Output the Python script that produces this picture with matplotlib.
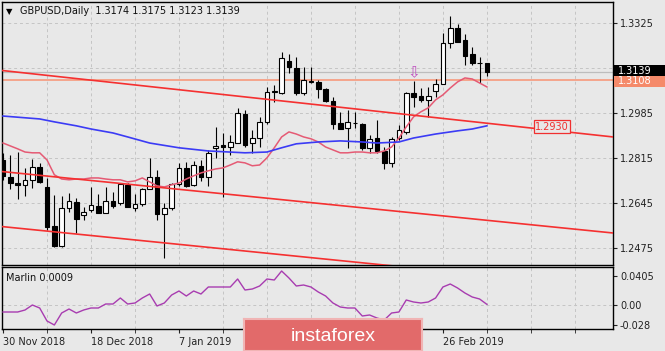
import matplotlib.pyplot as plt
from matplotlib.patches import Rectangle
import numpy as np

# GBPUSD daily, 30 Nov 2018 .. 6 Mar 2019 (bar index 0..66)
opens = [1.2807, 1.2743, 1.2720, 1.2713, 1.2732, 1.2781, 1.2705, 1.2558, 1.2482, 1.2626,
         1.2648, 1.2599, 1.2618, 1.2633, 1.2607, 1.2652, 1.2645, 1.2713, 1.2626, 1.2641,
         1.2698, 1.2743, 1.2603, 1.2626, 1.2716, 1.2777, 1.2713, 1.2785, 1.2743, 1.2853,
         1.2864, 1.2856, 1.2871, 1.2981, 1.2871, 1.2890, 1.2951, 1.3064, 1.3060, 1.3181,
         1.3155, 1.3060, 1.3102, 1.3102, 1.3076, 1.3030, 1.2947, 1.2928, 1.2947, 1.2943,
         1.2853, 1.2890, 1.2841, 1.2796, 1.2890, 1.2913, 1.3060, 1.3049, 1.3034, 1.3068,
         1.3094, 1.3249, 1.3306, 1.3261, 1.3208, 1.3174, 1.3174]
highs = [1.2834, 1.2826, 1.2837, 1.2777, 1.2811, 1.2796, 1.2739, 1.2675, 1.2671, 1.2682,
         1.2664, 1.2630, 1.2705, 1.2679, 1.2705, 1.2686, 1.2720, 1.2720, 1.2679, 1.2701,
         1.2815, 1.2769, 1.2645, 1.2720, 1.2796, 1.2800, 1.2803, 1.2807, 1.2845, 1.2932,
         1.2909, 1.2902, 1.3004, 1.2996, 1.2921, 1.2970, 1.3083, 1.3090, 1.3215, 1.3208,
         1.3196, 1.3159, 1.3159, 1.3110, 1.3079, 1.3045, 1.2989, 1.2996, 1.2989, 1.2947,
         1.2902, 1.2958, 1.2856, 1.2894, 1.2940, 1.3064, 1.3106, 1.3079, 1.3083, 1.3113,
         1.3287, 1.3352, 1.3321, 1.3283, 1.3234, 1.3196, 1.3175]
lows = [1.2732, 1.2698, 1.2660, 1.2671, 1.2701, 1.2720, 1.2543, 1.2478, 1.2478, 1.2611,
        1.2531, 1.2580, 1.2611, 1.2607, 1.2607, 1.2626, 1.2637, 1.2630, 1.2614, 1.2633,
        1.2698, 1.2580, 1.2437, 1.2618, 1.2709, 1.2705, 1.2709, 1.2728, 1.2709, 1.2815,
        1.2667, 1.2826, 1.2871, 1.2856, 1.2834, 1.2856, 1.2943, 1.3026, 1.3057, 1.3136,
        1.3053, 1.3053, 1.3098, 1.3042, 1.3026, 1.2924, 1.2924, 1.2853, 1.2928, 1.2845,
        1.2834, 1.2834, 1.2773, 1.2781, 1.2883, 1.2905, 1.3008, 1.3026, 1.2970, 1.3045,
        1.3094, 1.3231, 1.3253, 1.3166, 1.3166, 1.3098, 1.3123]
closes = [1.2747, 1.2720, 1.2713, 1.2732, 1.2781, 1.2724, 1.2554, 1.2482, 1.2626, 1.2652,
          1.2584, 1.2611, 1.2637, 1.2607, 1.2652, 1.2633, 1.2716, 1.2630, 1.2641, 1.2698,
          1.2743, 1.2603, 1.2626, 1.2716, 1.2777, 1.2709, 1.2788, 1.2743, 1.2834, 1.2860,
          1.2856, 1.2875, 1.2985, 1.2864, 1.2890, 1.2951, 1.3064, 1.3066, 1.3193, 1.3159,
          1.3060, 1.3110, 1.3106, 1.3076, 1.3030, 1.2943, 1.2924, 1.2951, 1.2947, 1.2853,
          1.2887, 1.2841, 1.2796, 1.2887, 1.2921, 1.3060, 1.3045, 1.3034, 1.3049, 1.3094,
          1.3249, 1.3306, 1.3253, 1.3200, 1.3174, 1.3174, 1.3139]

# fast moving average (pink)
ma_fast = [1.2871, 1.2860, 1.2849, 1.2837, 1.2834, 1.2834, 1.2807, 1.2751, 1.2735, 1.2732,
           1.2735, 1.2735, 1.2739, 1.2739, 1.2735, 1.2732, 1.2732, 1.2724, 1.2728, 1.2739,
           1.2724, 1.2709, 1.2705, 1.2713, 1.2720, 1.2735, 1.2747, 1.2758, 1.2766, 1.2773,
           1.2777, 1.2788, 1.2800, 1.2796, 1.2785, 1.2788, 1.2815, 1.2853, 1.2894, 1.2913,
           1.2905, 1.2894, 1.2887, 1.2875, 1.2856, 1.2845, 1.2834, 1.2834, 1.2837, 1.2837,
           1.2834, 1.2834, 1.2841, 1.2856, 1.2890, 1.2932, 1.2970, 1.2989, 1.3004, 1.3034,
           1.3053, 1.3079, 1.3102, 1.3117, 1.3113, 1.3098, 1.3083]

# slow moving average (blue), read at a few bars
ma_slow_bars = [0, 5, 7, 10, 12, 15, 17, 20, 24, 28, 33, 36, 38, 40, 43, 46, 49, 51, 54, 56, 59, 62, 64, 66]
ma_slow = [1.2973, 1.2962, 1.2951, 1.2936, 1.2924, 1.2909, 1.2894, 1.2871, 1.2853, 1.2841, 1.2834, 1.2837,
           1.2853, 1.2868, 1.2875, 1.2879, 1.2875, 1.2871, 1.2875, 1.2890, 1.2905, 1.2917, 1.2924, 1.2936]

# Marlin oscillator
marlin = [-0.0098, -0.0098, -0.0098, -0.0070, 0.0000, -0.0042, -0.0224, -0.0280, -0.0112, -0.0056,
          -0.0112, -0.0070, -0.0042, -0.0042, 0.0014, 0.0014, 0.0098, 0.0014, 0.0028, 0.0098,
          0.0154, -0.0014, 0.0028, 0.0140, 0.0196, 0.0126, 0.0196, 0.0154, 0.0252, 0.0252,
          0.0252, 0.0252, 0.0364, 0.0210, 0.0224, 0.0266, 0.0364, 0.0350, 0.0476, 0.0378,
          0.0266, 0.0280, 0.0252, 0.0182, 0.0126, 0.0028, -0.0028, -0.0042, -0.0042, -0.0154,
          -0.0140, -0.0182, -0.0210, -0.0112, -0.0098, 0.0070, 0.0042, 0.0028, 0.0042, 0.0098,
          0.0252, 0.0294, 0.0238, 0.0168, 0.0112, 0.0084, 0.0009]

# channel lines (bar, price)
chan_bars = [-0.41, 83.2]
chan_upper = [1.3146, 1.2894]
chan_mid = [1.2764, 1.2531]
chan_low = [1.2556, 1.2323]

level = 1.3108
bid = 1.3139
price_ticks = [1.3325, 1.3155, 1.2985, 1.2815, 1.2645, 1.2475]
price_ticklabels = ['1.3325', '', '1.2985', '1.2815', '1.2645', '1.2475']  # 1.3155 sits under the price boxes
marlin_ticks = [0.0405, 0.0, -0.028]
marlin_ticklabels = ['0.0405', '0.00', '-0.028']
date_bars = [0, 12, 24, 60]
date_labels = ['30 Nov 2018', '18 Dec 2018', '7 Jan 2019', '26 Feb 2019']

bg = '#e8e8e8'
grid_kw = dict(color='#c4c4c4', lw=0.7, ls=(0, (3, 3)))

fig = plt.figure(figsize=(6.65, 3.51), dpi=100, facecolor=bg)
ax = fig.add_axes([2/665, 1-265/351, 611/665, 263/351], facecolor=bg)
ax2 = fig.add_axes([2/665, 1-329/351, 611/665, 62/351], facecolor=bg)

x = np.arange(len(closes))
o = np.array(opens); c = np.array(closes)
up = c >= o
xlim = (-0.14, 83.2)
grid_bars = np.arange(6, 84, 6)

# candles
ax.vlines(x, lows, highs, color='black', lw=0.8, zorder=3)
ax.bar(x[up], (c - o)[up], bottom=o[up], width=0.62, color='white', edgecolor='black', lw=0.8, zorder=4)
ax.bar(x[~up], (o - c)[~up], bottom=c[~up], width=0.62, color='black', edgecolor='black', lw=0.8, zorder=4)

# indicators
ax.plot(x, ma_fast, color='#e55a74', lw=1.1, zorder=5)
ax.plot(ma_slow_bars, ma_slow, color='#3b3bf5', lw=1.2, zorder=5)
for ln in (chan_upper, chan_mid, chan_low):
    ax.plot(chan_bars, ln, color='#f53030', lw=1.2, zorder=5)
ax.axhline(level, color='#f5a58c', lw=1.4, zorder=2)
ax.axhline(bid, color='#bdbdbd', lw=0.9, zorder=2)
ax.text(72.6, 1.2932, '1.2930', color='#f03030', fontsize=7, va='center', ha='left', zorder=6,
        bbox=dict(boxstyle='square,pad=0.15', fc=bg, ec='#f03030', lw=0.9))
ax.text(56, highs[56] + 0.0003, '\u21e9', color='#c050c0', fontsize=11, ha='center', va='bottom', zorder=6)

ax.set_xlim(*xlim)
ax.set_ylim(1.2410, 1.3404)
ax.set_xticks(grid_bars)
ax.set_xticklabels([])
ax.tick_params(axis='x', length=0)
ax.yaxis.tick_right()
ax.set_yticks(price_ticks)
ax.set_yticklabels(price_ticklabels)
ax.tick_params(axis='y', length=3, width=0.8, pad=2, labelsize=7, colors='#222222')
ax.grid(True, **grid_kw)
for s in ax.spines.values():
    s.set_color('black'); s.set_lw(1)

# price boxes on the right
trans = ax.get_yaxis_transform()
for val, fc in ((bid, 'black'), (level, '#f58a6a')):
    yc = val + (0.0006 if val == bid else -0.0004)
    ax.add_patch(Rectangle((1.002, yc - 0.0021), 0.085, 0.0042, transform=trans, fc=fc, ec='none',
                           clip_on=False, zorder=10))
    ax.text(1.008, yc, f'{val:.4f}', transform=trans, color='white', fontsize=7, va='center',
            ha='left', zorder=11, clip_on=False)

ax.text(0.007, 0.965, '\u25bc', transform=ax.transAxes, fontsize=6, va='center', ha='left')
ax.text(0.03, 0.965, 'GBPUSD,Daily  1.3174 1.3175 1.3123 1.3139', transform=ax.transAxes,
        fontsize=7, va='center', ha='left', color='#111111')

# Marlin panel
ax2.plot(x, marlin, color='#a83cb0', lw=1.0, zorder=3)
ax2.set_xlim(*xlim)
ax2.set_ylim(-0.0336, 0.0532)
ax2.yaxis.tick_right()
ax2.set_yticks(marlin_ticks)
ax2.set_yticklabels(marlin_ticklabels)
ax2.tick_params(axis='y', length=3, width=0.8, pad=2, labelsize=7, colors='#222222')
ax2.set_xticks(grid_bars, minor=True)
ax2.set_xticks(date_bars)
ax2.set_xticklabels(date_labels, ha='left')
ax2.tick_params(axis='x', which='both', length=3, labelsize=7, pad=3, colors='#222222')
ax2.grid(True, which='minor', axis='x', **grid_kw)
ax2.axhline(0, **grid_kw)
ax2.text(0.007, 0.82, 'Marlin 0.0009', transform=ax2.transAxes, fontsize=7, va='center', ha='left',
         color='#111111')
for s in ax2.spines.values():
    s.set_color('black'); s.set_lw(1)

# watermark
logo = fig.add_axes([244/665, 0, 178/665, 32/351], zorder=20)
logo.set_xticks([]); logo.set_yticks([])
logo.set_facecolor('#e26a6a')
for s in logo.spines.values():
    s.set_color('#f0b4b4'); s.set_lw(1.5)
logo.text(0.5, 0.45, 'instaforex', color='white', fontsize=14, ha='center', va='center',
          family='Liberation Sans', transform=logo.transAxes)

fig.savefig('out.png', dpi=100, facecolor=bg)
